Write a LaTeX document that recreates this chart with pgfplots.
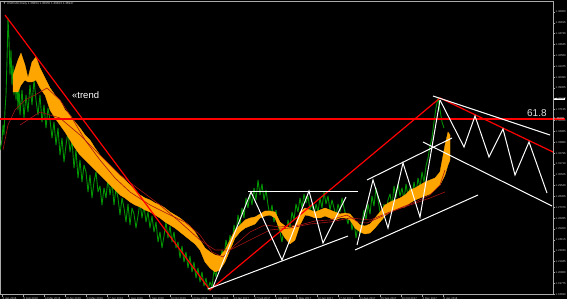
\documentclass[border=0pt]{standalone}
\usepackage{fontspec}
\setmainfont{Liberation Sans}
\usepackage{pgfplots}
\pgfplotsset{compat=1.18}
\definecolor{cloud}{RGB}{255,165,0}
\definecolor{price}{RGB}{0,150,0}
\definecolor{ma}{RGB}{165,20,20}
\definecolor{axgray}{RGB}{170,170,170}
\definecolor{lbl}{RGB}{200,200,200}
\begin{document}
\begin{tikzpicture}
\fill[black] (0,0) rectangle (567bp,299bp);
\useasboundingbox (0,0) rectangle (567bp,299bp);
\begin{axis}[
  at={(0bp,4.5bp)}, anchor=south west,
  scale only axis, width=553bp, height=293.5bp,
  xmin=0, xmax=553, ymin=1.1865, ymax=1.480,
  axis background/.style={fill=black},
  axis line style={axgray, line width=0.6pt},
  tick style={axgray, line width=0.4pt},
  major tick length=2bp, tick align=outside,
  xtick pos=bottom, ytick pos=right, yticklabel pos=right,
  /pgf/number format/assume math mode=true,
  ytick={1.46900,1.45815,1.44730,1.43645,1.42560,1.41475,1.40390,1.39305,1.38220,1.37135,1.36050,1.34965,1.33880,1.32795,1.31710,1.30625,1.29540,1.28455,1.27370,1.26285,1.25200,1.24115,1.23030,1.21945,1.20860,1.19775,1.18690},
  yticklabels={1.46900,1.45815,1.44730,1.43645,1.42560,1.41475,1.40390,1.39305,1.38220,1.37135,1.36050,1.34965,1.33880,1.32795,1.31710,1.30625,1.29540,1.28455,1.27370,1.26285,1.25200,1.24115,1.23030,1.21945,1.20860,1.19775,1.18690},
  yticklabel style={font=\fontsize{2.8}{3}\selectfont, text=lbl, inner sep=0.5bp},
  xtick={2,23,44,65,86,107,128,149,170,191,212,233,254,275,296,317,338,359,380,401,422,443},
  xticklabels={4 Jan 2016,8 Feb 2016,14 Mar 2016,18 Apr 2016,23 May 2016,27 Jun 2016,1 Aug 2016,5 Sep 2016,10 Oct 2016,14 Nov 2016,19 Dec 2016,23 Jan 2017,27 Feb 2017,3 Apr 2017,8 May 2017,12 Jun 2017,17 Jul 2017,21 Aug 2017,25 Sep 2017,30 Oct 2017,4 Dec 2017,8 Jan 2018},
  xticklabel style={font=\fontsize{2.8}{3}\selectfont, text=lbl, anchor=north west, inner sep=0.5bp},
]
% price
\addplot[price, line width=0.9pt, line join=round] coordinates {
(0,1.331)(2,1.341)(3,1.356)(4,1.346)(5,1.371)(6,1.386)(7,1.421)(8,1.463)(9,1.441)(10,1.406)(11,1.431)(12,1.396)(13,1.416)(14,1.386)(15,1.411)(16,1.381)(17,1.401)(18,1.371)(19,1.396)(20,1.366)(22,1.391)(24,1.363)(26,1.386)(28,1.369)(30,1.396)(32,1.376)(34,1.401)(36,1.381)(38,1.366)(40,1.386)(42,1.359)(44,1.376)(46,1.353)(48,1.373)(50,1.361)(52,1.343)(54,1.359)(56,1.336)(58,1.353)(60,1.326)(62,1.343)(64,1.319)(66,1.336)(68,1.349)(70,1.329)(72,1.341)(74,1.313)(76,1.331)(78,1.303)(80,1.321)(82,1.299)(84,1.316)(86,1.309)(88,1.289)(90,1.306)(92,1.283)(94,1.299)(96,1.309)(98,1.289)(100,1.295)(102,1.276)(104,1.293)(106,1.283)(108,1.303)(110,1.286)(112,1.299)(114,1.276)(116,1.293)(118,1.283)(120,1.266)(122,1.283)(124,1.273)(126,1.259)(128,1.277)(130,1.256)(132,1.273)(134,1.267)(136,1.253)(138,1.265)(140,1.279)(142,1.263)(144,1.275)(146,1.259)(148,1.269)(150,1.253)(152,1.265)(154,1.249)(156,1.259)(158,1.239)(160,1.249)(162,1.233)(164,1.245)(166,1.259)(168,1.243)(170,1.255)(172,1.239)(174,1.249)(176,1.233)(178,1.239)(180,1.223)(182,1.235)(184,1.219)(186,1.229)(188,1.213)(190,1.225)(192,1.209)(194,1.219)(196,1.203)(198,1.213)(200,1.199)(202,1.209)(204,1.195)(206,1.203)(208,1.191)(210,1.199)(212,1.194)(214,1.211)(216,1.204)(218,1.221)(220,1.213)(222,1.231)(224,1.223)(226,1.241)(228,1.231)(230,1.246)(232,1.236)(234,1.256)(236,1.248)(238,1.266)(240,1.256)(242,1.273)(244,1.263)(246,1.283)(248,1.273)(250,1.287)(252,1.276)(254,1.293)(256,1.281)(258,1.301)(260,1.286)(262,1.297)(264,1.281)(266,1.291)(268,1.276)(270,1.265)(272,1.276)(274,1.259)(276,1.271)(278,1.255)(280,1.249)(282,1.239)(284,1.253)(286,1.245)(288,1.261)(290,1.253)(292,1.269)(294,1.261)(296,1.277)(298,1.269)(300,1.283)(302,1.273)(304,1.287)(306,1.278)(308,1.285)(310,1.271)(312,1.277)(314,1.265)(316,1.277)(318,1.269)(320,1.283)(322,1.273)(324,1.289)(326,1.277)(328,1.285)(330,1.271)(332,1.281)(334,1.273)(336,1.265)(338,1.277)(340,1.269)(342,1.283)(344,1.273)(346,1.265)(348,1.257)(350,1.267)(352,1.251)(354,1.261)(356,1.243)(358,1.255)(360,1.247)(362,1.259)(364,1.271)(366,1.261)(368,1.277)(370,1.267)(372,1.285)(374,1.275)(376,1.293)(378,1.281)(380,1.269)(382,1.261)(384,1.277)(386,1.267)(388,1.281)(390,1.287)(392,1.275)(394,1.295)(396,1.283)(398,1.297)(400,1.285)(402,1.293)(404,1.281)(406,1.297)(408,1.285)(410,1.293)(412,1.283)(414,1.299)(416,1.287)(418,1.303)(420,1.293)(422,1.309)(424,1.299)(426,1.315)(428,1.323)(430,1.335)(432,1.343)(434,1.359)(436,1.373)(438,1.383)(440,1.371)(442,1.359)(444,1.353)
};
% cloud
\addplot[fill=cloud, draw=cloud, line width=0.3pt] coordinates {
(13,1.406)(18,1.421)(21,1.428)(25,1.416)(28,1.403)(32,1.419)(36,1.424)(40,1.413)(45,1.403)(50,1.393)(55,1.386)(60,1.381)(65,1.371)(70,1.366)(75,1.359)(80,1.353)(85,1.346)(90,1.341)(95,1.333)(100,1.326)(105,1.321)(110,1.316)(115,1.311)(120,1.306)(125,1.301)(130,1.296)(135,1.291)(140,1.286)(145,1.283)(150,1.281)(155,1.278)(160,1.276)(165,1.273)(170,1.269)(175,1.266)(180,1.263)(185,1.259)(190,1.255)(195,1.249)(200,1.241)(205,1.233)(210,1.229)(215,1.226)(220,1.225)(225,1.231)(230,1.241)(235,1.251)(240,1.256)(245,1.261)(250,1.263)(255,1.264)(260,1.267)(265,1.270)(270,1.270)(275,1.269)(280,1.259)(285,1.255)(290,1.253)(295,1.256)(300,1.269)(305,1.273)(310,1.271)(315,1.269)(320,1.271)(325,1.273)(330,1.271)(335,1.269)(340,1.267)(345,1.268)(350,1.267)(355,1.261)(360,1.256)(365,1.255)(370,1.257)(375,1.263)(380,1.269)(385,1.276)(390,1.279)(395,1.281)(400,1.283)(405,1.286)(410,1.291)(415,1.293)(420,1.296)(425,1.299)(430,1.301)(435,1.303)(440,1.309)(445,1.336)(448,1.349)(450,1.346)
(450,1.321)(448,1.316)(445,1.306)(440,1.296)(435,1.291)(430,1.287)(425,1.285)(420,1.283)(415,1.281)(410,1.278)(405,1.274)(400,1.273)(395,1.271)(390,1.269)(385,1.265)(380,1.259)(375,1.253)(370,1.248)(365,1.247)(360,1.249)(355,1.253)(350,1.261)(345,1.263)(340,1.263)(335,1.261)(330,1.263)(325,1.265)(320,1.263)(315,1.263)(310,1.265)(305,1.266)(300,1.256)(295,1.241)(290,1.237)(285,1.243)(280,1.251)(275,1.263)(270,1.266)(265,1.265)(260,1.263)(255,1.257)(250,1.255)(245,1.253)(240,1.249)(235,1.243)(230,1.231)(225,1.219)(220,1.211)(215,1.209)(210,1.213)(205,1.219)(200,1.231)(195,1.237)(190,1.241)(185,1.245)(180,1.249)(175,1.253)(170,1.256)(165,1.259)(160,1.263)(155,1.266)(150,1.269)(145,1.271)(140,1.274)(135,1.276)(130,1.279)(125,1.283)(120,1.286)(115,1.291)(110,1.296)(105,1.301)(100,1.306)(95,1.311)(90,1.316)(85,1.321)(80,1.326)(75,1.333)(70,1.341)(65,1.349)(60,1.356)(55,1.363)(50,1.371)(45,1.386)(40,1.393)(36,1.401)(32,1.399)(28,1.399)(25,1.401)(21,1.396)(18,1.389)(13,1.389)
} -- cycle;
% moving averages
\addplot[ma, line width=0.6pt] coordinates {
(3,1.331)(8,1.356)(15,1.371)(25,1.381)(35,1.386)(47,1.393)(60,1.381)(72,1.363)(85,1.341)(100,1.321)(115,1.303)(130,1.289)(150,1.276)(170,1.266)(185,1.259)(200,1.246)(212,1.229)(223,1.224)(235,1.236)(250,1.249)(265,1.256)(280,1.254)(300,1.256)(315,1.260)(330,1.261)(347,1.266)(358,1.259)(367,1.258)(385,1.266)(400,1.273)(415,1.279)(430,1.286)(440,1.296)(445,1.311)
};
\addplot[ma, line width=0.6pt] coordinates {
(20,1.356)(40,1.369)(60,1.363)(80,1.346)(100,1.326)(120,1.306)(140,1.291)(160,1.276)(180,1.259)(200,1.241)(215,1.231)(230,1.231)(250,1.241)(270,1.251)(290,1.253)(310,1.257)(330,1.259)(350,1.263)(370,1.261)(390,1.269)(410,1.276)(430,1.283)(445,1.289)
};
% red trend lines
\addplot[red, line width=1.2pt] coordinates {(5,1.466)(210,1.191)(440,1.383)(553,1.329)};
\addplot[red, line width=1.6pt] coordinates {(0,1.362)(553,1.362)};
% white patterns
\addplot[white, line width=1pt] coordinates {(248,1.290)(358,1.290)};
\addplot[white, line width=1pt] coordinates {(208,1.192)(348,1.245)};
\addplot[white, line width=1pt] coordinates {(213,1.194)(251,1.289)(282,1.221)(309,1.290)(323,1.238)(346,1.284)};
\addplot[white, line width=1pt] coordinates {(367,1.301)(452,1.343)};
\addplot[white, line width=1pt] coordinates {(355,1.231)(478,1.286)};
\addplot[white, line width=1pt] coordinates {(357,1.236)(373,1.301)(388,1.253)(403,1.318)(420,1.264)(440,1.381)};
\addplot[white, line width=1pt] coordinates {(440,1.381)(464,1.334)(475,1.365)(489,1.324)(503,1.352)(515,1.306)(529,1.339)(547,1.288)};
\addplot[white, line width=1pt] coordinates {(433,1.385)(550,1.346)};
\addplot[white, line width=1pt] coordinates {(423,1.339)(552,1.275)};
\node[anchor=base west, inner sep=0, text=white, font=\fontsize{9.5}{11}\selectfont] at (axis cs:72,1.3825) {«trend};
\node[anchor=base west, inner sep=0, text=white!88!black, font=\fontsize{10}{12}\selectfont] at (axis cs:527,1.364) {61.8};
\end{axis}
\node[anchor=west, fill=white, text=black, inner sep=0.4bp, font=\fontsize{2.8}{3}\selectfont] at (553.6bp,200bp) {1.38200};
\node[anchor=west, fill=red, text=white, inner sep=0.4bp, font=\fontsize{2.8}{3}\selectfont] at (553.6bp,180bp) {1.36200};
\node[anchor=north west, inner sep=0, text=lbl, font=\fontsize{3}{3.5}\selectfont] at (3bp,297bp) {▼ USDCAD,Daily  1.36894 1.36955 1.36823 1.36947};
\end{tikzpicture}
\end{document}
